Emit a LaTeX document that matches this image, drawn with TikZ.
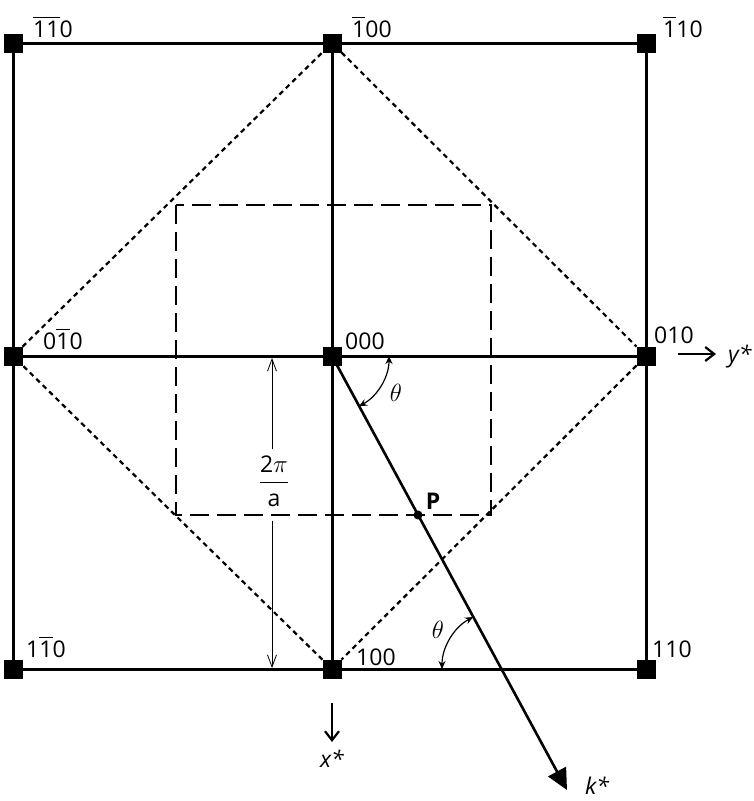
\documentclass[tikz,border=0pt]{standalone}
\usepackage{amsmath}
\usepackage{fontspec}
\setmainfont{Open Sans}
\usepackage{tikz}
\usetikzlibrary{arrows.meta,positioning,calc}
\newcommand{\ob}[1]{$\overline{\mbox{#1}}$}

\begin{document}
\begin{tikzpicture}[x=1pt,y=-1pt,
    lat/.style={fill=black,minimum size=19pt,inner sep=0pt,outer sep=0pt},
    idx/.style={font=\fontsize{23}{27}\selectfont,inner sep=0pt},
    gridln/.style={line width=3pt},
    zone/.style={line width=2.6pt,dash pattern=on 19pt off 8pt},
    bragg/.style={line width=2.2pt,dash pattern=on 5pt off 4pt},
    angarr/.style={line width=1.2pt,{Stealth[length=8pt,width=7pt]}-{Stealth[length=8pt,width=7pt]}},
    dimarr/.style={line width=0.8pt,-{Straight Barb[length=12pt,width=9pt]}},
    axarr/.style={line width=2.2pt,-{Straight Barb[length=9pt,width=14pt]}}]
    \useasboundingbox (0,0) rectangle (753,801);
    % reciprocal lattice points
    \node[lat] (mm0) at (13,43) {};
    \node[lat] (m00) at (332,43) {};
    \node[lat] (mp0) at (646,43) {};
    \node[lat] (0m0) at (13,356) {};
    \node[lat] (000) at (332,356) {};
    \node[lat] (0p0) at (646,356) {};
    \node[lat] (pm0) at (13,669) {};
    \node[lat] (p00) at (332,669) {};
    \node[lat] (pp0) at (646,669) {};
    \draw[gridln] (mm0) -- (m00) -- (mp0);
    \draw[gridln] (0m0) -- (000) -- (0p0);
    \draw[gridln] (pm0) -- (p00) -- (pp0);
    \draw[gridln] (mm0) -- (0m0) -- (pm0);
    \draw[gridln] (m00) -- (000) -- (p00);
    \draw[gridln] (mp0) -- (0p0) -- (pp0);
    % second zone boundary and first zone
    \draw[bragg] (m00) -- (0p0) -- (p00) -- (0m0) -- (m00);
    \draw[zone] (176,205) rectangle (491,515);
    % indices
    \node[idx,anchor=base west] (t-mm0) at (33,37) {\ob{1}\ob{1}0};
    \node[idx,anchor=base west] (t-m00) at (352,37) {\ob{1}00};
    \node[idx,anchor=base west] (t-mp0) at (663,37) {\ob{1}10};
    \node[idx,anchor=base west] (t-0m0) at (43,349) {0\ob{1}0};
    \node[idx,anchor=base west] (t-000) at (345,349) {000};
    \node[idx,anchor=base west] (t-0p0) at (654,343) {010};
    \node[idx,anchor=base west] (t-pm0) at (26,657) {1\ob{1}0};
    \node[idx,anchor=base west] (t-p00) at (356,665) {100};
    \node[idx,anchor=base west] (t-pp0) at (652,657) {110};
    % axes
    \coordinate (ys) at (678,354);
    \coordinate (ye) at (716,354);
    \draw[axarr] (ys) -- (ye);
    \node[idx,anchor=base west] (ylab) at (728,362) {\itshape y*};
    \coordinate (xs) at (332,703);
    \coordinate (xe) at (332,742);
    \draw[axarr] (xs) -- (xe);
    \node[idx,anchor=base] (xlab) at (332,767) {\itshape x*};
    % wave vector
    \coordinate (kend) at (567,790);
    \draw[line width=2.6pt,-{Triangle[length=21pt,width=20pt]}] (000.center) -- (kend);
    \node[idx,anchor=base west] (klab) at (585,794) {\itshape k*};
    \coordinate (P) at (418,515);
    \fill (P) circle (4.5);
    \node[idx,font=\fontsize{23}{27}\selectfont\bfseries] (Plab) at (433,501) {P};
    % angles
    \draw[angarr] ([shift={(0:57)}]000.center) arc[start angle=0,end angle=61.7,radius=57];
    \node[idx] (th1) at (396,393) {$\theta$};
    \coordinate (q) at (501,669);
    \draw[angarr] ([shift={(180:59)}]q) arc[start angle=180,end angle=241.7,radius=59];
    \node[idx] (th2) at (438,630) {$\theta$};
    % spacing 2pi/a
    \node[idx] (frac) at (274,481) {$\dfrac{\text{2}\pi}{\text{a}}$};
    \coordinate (dtop) at (272,358);
    \coordinate (dbot) at (272,668);
    \draw[dimarr] ([yshift=6pt]frac.north -| dtop) -- (dtop);
    \draw[dimarr] ([yshift=-14pt]frac.south -| dbot) -- (dbot);
\end{tikzpicture}
\end{document}
